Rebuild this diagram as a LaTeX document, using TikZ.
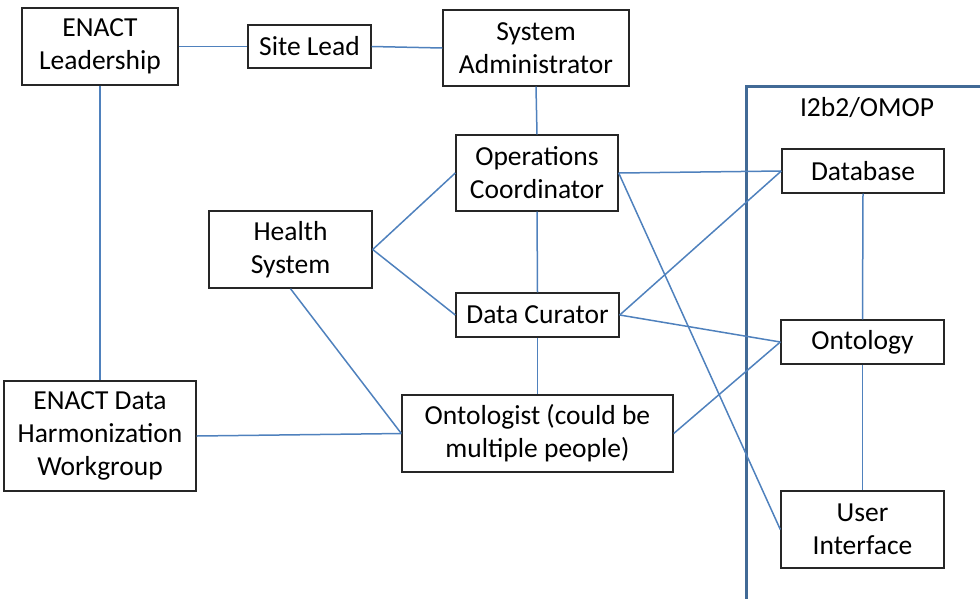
\documentclass[tikz,border=0pt]{standalone}
\usepackage{fontspec}
\setmainfont{Carlito}
\definecolor{conn}{RGB}{79,129,189}
\definecolor{frame}{RGB}{65,106,150}
\begin{document}
\begin{tikzpicture}[x=1pt,y=-1pt,
  box/.style={draw=black!85, line width=1.4pt, fill=white, inner sep=0pt, align=center,
    font=\fontsize{27.5}{33}\selectfont},
  link/.style={draw=conn, line width=1.5pt}]
\useasboundingbox (0,0) rectangle (980,598);
% container
\draw[frame, line width=3pt] (746,600) -- (746,86) -- (982,86);
\node[font=\fontsize{27.5}{33}\selectfont, inner sep=0pt] (lbl) at (867,108) {I2b2/OMOP};
% nodes
\node[box, minimum width=156, minimum height=77] (el) at (100,46.5) {ENACT\\Leadership};
\node[box, minimum width=123, minimum height=43] (sl) at (309.5,46.5) {Site Lead};
\node[box, minimum width=186, minimum height=76] (sa) at (536,48) {System\\Administrator};
\node[box, minimum width=162, minimum height=76] (oc) at (537,173) {Operations\\Coordinator};
\node[box, minimum width=163, minimum height=77] (hs) at (290.5,249.5) {Health\\System};
\node[box, minimum width=163, minimum height=44] (dc) at (537.5,315) {Data Curator};
\node[box, minimum width=271, minimum height=77] (on) at (537.5,433.5) {Ontologist (could be\\multiple people)};
\node[box, minimum width=192, minimum height=110] (wg) at (100,436) {ENACT Data\\Harmonization\\Workgroup};
\node[box, minimum width=162, minimum height=44] (db) at (863,171) {Database};
\node[box, minimum width=163, minimum height=44] (ot) at (862.5,342) {Ontology};
\node[box, minimum width=163, minimum height=77] (ui) at (862.5,529.5) {User\\Interface};
% connectors
\draw[link] (el.east) -- (sl.west);
\draw[link] (sl.east) -- (sa.west);
\draw[link] (sa.south) -- (oc.north);
\draw[link] (el.south) -- (wg.north);
\draw[link] (hs.east) -- (oc.west);
\draw[link] (hs.east) -- (dc.west);
\draw[link] (hs.south) -- (on.west);
\draw[link] (wg.east) -- (on.west);
\draw[link] (oc.south) -- (dc.north);
\draw[link] (dc.south) -- (on.north);
\draw[link] (oc.east) -- (db.west);
\draw[link] (oc.east) -- (ui.west);
\draw[link] (dc.east) -- (db.west);
\draw[link] (dc.east) -- (ot.west);
\draw[link] (on.east) -- (ot.west);
\draw[link] (db.south) -- (ot.north);
\draw[link] (ot.south) -- (ui.north);
\end{tikzpicture}
\end{document}
